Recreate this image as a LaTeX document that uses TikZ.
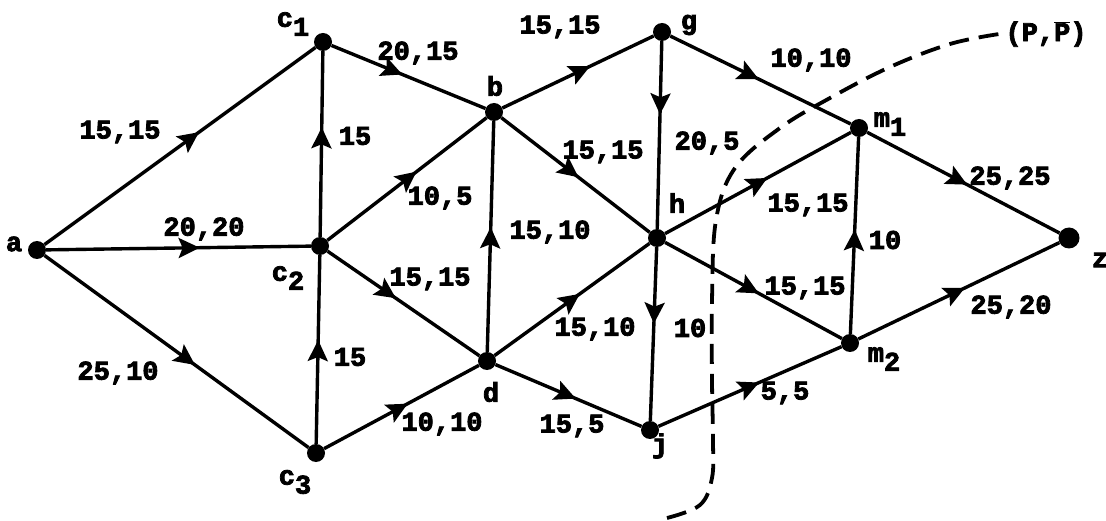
\documentclass[tikz,border=0pt]{standalone}
\usepackage{fontspec}
\newfontfamily\lblfont[BoldFeatures={FakeBold=3}]{Liberation Mono}
\usetikzlibrary{decorations.markings,arrows.meta}
\tikzset{
  vtx/.style={circle,fill=black,inner sep=0pt,minimum size=18pt},
  edgeline/.style={line width=3.4pt},
  arr/.style={edgeline, postaction={decorate},
    decoration={markings, mark=at position #1 with {\arrow{Stealth[length=21pt,width=20pt,inset=4pt]}}}},
  lbl/.style={font=\lblfont\bfseries\fontsize{27}{27}\selectfont, inner sep=0pt},
  cutline/.style={line width=3.8pt, dash pattern=on 20pt off 10pt}
}
\newcommand{\sbs}[2]{#1\raisebox{-9pt}{#2}}
\begin{document}
\begin{tikzpicture}[x=1pt,y=-1pt]
\useasboundingbox (0,0) rectangle (1106,521);
% vertices
\node[vtx] (a)  at (37,250) {};
\node[vtx] (c1) at (323,42) {};
\node[vtx] (c2) at (320,246) {};
\node[vtx] (c3) at (316,453) {};
\node[vtx] (b)  at (494,112) {};
\node[vtx] (d)  at (487,361) {};
\node[vtx] (g)  at (662,32) {};
\node[vtx] (h)  at (657,238) {};
\node[vtx] (j)  at (650,430) {};
\node[vtx] (m1) at (859,128) {};
\node[vtx] (m2) at (850,343) {};
\node[vtx,minimum size=21pt] (z) at (1069,238) {};
% vertex labels
\node[lbl] (la)  at (14,244) {a};
\node[lbl] (lc1) at (293,24) {\sbs{c}{1}};
\node[lbl] (lc2) at (288,278) {\sbs{c}{2}};
\node[lbl] (lc3) at (295,482) {\sbs{c}{3}};
\node[lbl] (lb)  at (495,86) {b};
\node[lbl] (ld)  at (491,392) {d};
\node[lbl] (lg)  at (689,25) {g};
\node[lbl] (lh)  at (677,203) {h};
\node[lbl] (lj)  at (660,446) {j};
\node[lbl] (lm1) at (890,124) {\sbs{m}{1}};
\node[lbl] (lm2) at (884,359) {\sbs{m}{2}};
\node[lbl] (lz)  at (1100,260) {z};
% edges
\draw[arr=0.57] (a) -- (c1);
\draw[arr=0.58] (a) -- (c2);
\draw[arr=0.57] (a) -- (c3);
\draw[arr=0.46] (c1) -- (b);
\draw[arr=0.59] (c2) -- (c1);
\draw[arr=0.55] (c3) -- (c2);
\draw[arr=0.56] (c2) -- (b);
\draw[arr=0.45] (c2) -- (d);
\draw[arr=0.54] (c3) -- (d);
\draw[arr=0.54] (d) -- (b);
\draw[arr=0.58] (b) -- (g);
\draw[arr=0.52] (b) -- (h);
\draw[arr=0.39] (g) -- (h);
\draw[arr=0.49] (g) -- (m1);
\draw[arr=0.55] (d) -- (h);
\draw[arr=0.55] (d) -- (j);
\draw[arr=0.44] (h) -- (j);
\draw[arr=0.55] (h) -- (m1);
\draw[arr=0.53] (h) -- (m2);
\draw[arr=0.53] (m2) -- (m1);
\draw[arr=0.55] (j) -- (m2);
\draw[arr=0.52] (m1) -- (z);
\draw[arr=0.53] (m2) -- (z);
% edge labels
\node[lbl] (e1)  at (120,132) {15,15};
\node[lbl] (e2)  at (204,229) {20,20};
\node[lbl] (e3)  at (118,373) {25,10};
\node[lbl] (e4)  at (418,53) {20,15};
\node[lbl] (e5)  at (355,136) {15};
\node[lbl] (e6)  at (350,357) {15};
\node[lbl] (e7)  at (440,198) {10,5};
\node[lbl] (e8)  at (430,279) {15,15};
\node[lbl] (e9)  at (550,232) {15,10};
\node[lbl] (e10) at (560,27) {15,15};
\node[lbl] (e11) at (603,152) {15,15};
\node[lbl] (e12) at (707,143) {20,5};
\node[lbl] (e13) at (811,60) {10,10};
\node[lbl] (e14) at (595,329) {15,10};
\node[lbl] (e15) at (690,328) {10};
\node[lbl] (e16) at (808,205) {15,15};
\node[lbl] (e17) at (805,288) {15,15};
\node[lbl] (e18) at (885,240) {10};
\node[lbl] (e19) at (572,426) {15,5};
\node[lbl] (e20) at (442,424) {10,10};
\node[lbl] (e21) at (785,393) {5,5};
\node[lbl] (e22) at (1010,178) {25,25};
\node[lbl] (e23) at (1011,307) {25,20};
% cut
\node[lbl] (pp) at (1046,34) {(P,$\overline{\hbox{P}}$)};
\draw[cutline] plot[smooth, tension=0.6] coordinates {(667,518) (700,505) (712,478) (713,440) (712,380) (712,300) (716,220) (735,168) (780,128) (830,98) (890,67) (950,44) ([xshift=-6pt]pp.west)};
\end{tikzpicture}
\end{document}
